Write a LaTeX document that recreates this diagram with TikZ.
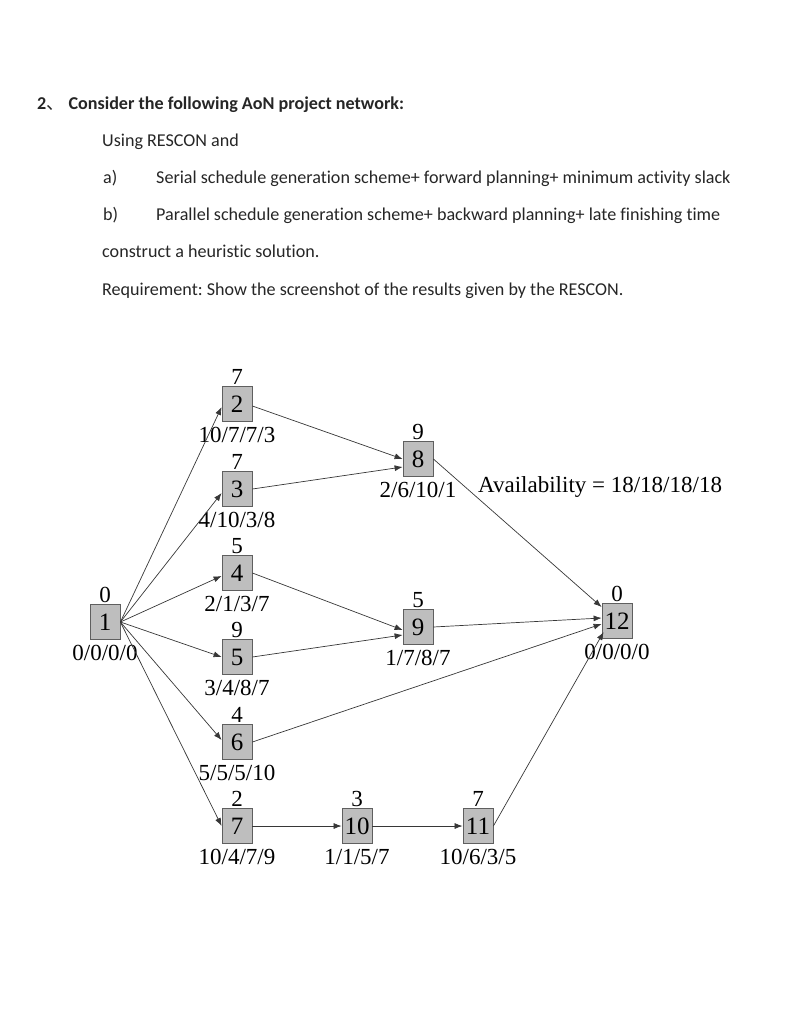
\documentclass[tikz,border=0pt]{standalone}
\usepackage{fontspec}
\setmainfont{Liberation Serif}
\newfontfamily\calfont[Ligatures=NoCommon]{Carlito}
\newfontfamily\cjkfont{Noto Sans CJK SC}
\usetikzlibrary{arrows.meta}
\frenchspacing
\definecolor{boxfill}{RGB}{190,190,190}
\definecolor{boxline}{RGB}{95,95,95}
\definecolor{edgecol}{RGB}{55,55,55}
\tikzset{
  txt/.style={anchor=base west, inner sep=0pt, font=\calfont\fontsize{18.1}{20}\selectfont, text=black!85},
  actbox/.style={draw=boxline, fill=boxfill, line width=0.8pt, minimum width=30pt, minimum height=35pt, inner sep=0pt, font=\fontsize{25}{26}\selectfont},
  toplbl/.style={anchor=south, inner sep=0pt, font=\fontsize{23}{24}\selectfont, yshift=1pt},
  botlbl/.style={anchor=base, inner sep=0pt, font=\fontsize{23}{24}\selectfont},
  edge/.style={draw=edgecol, line width=0.7pt, -{Latex[length=8pt,width=6pt]}},
  plain/.style={draw=edgecol, line width=0.7pt}
}
\newcommand{\act}[5]{%
  \node[actbox] (n#1) at (#2,#3) {#1};
  \node[toplbl] (t#1) at (n#1.north) {#4};
  \node[botlbl] (b#1) at ([yshift=-21pt]n#1.south) {#5};
}
\begin{document}
\begin{tikzpicture}[x=1pt,y=-1pt]
\useasboundingbox (0,0) rectangle (793,1024);
% heading text
\node[txt] (title) at (37,110) {\bfseries 2{\cjkfont\mdseries 、} Consider the following AoN project network:};
\node[txt] (l1) at (102,147) {Using RESCON and};
\node[txt] (l2a) at (103,184) {a)};
\node[txt] (l2) at (156,184) {Serial schedule generation scheme+ forward planning+ minimum activity slack};
\node[txt] (l3a) at (103,221) {b)};
\node[txt] (l3) at (156,221) {Parallel schedule generation scheme+ backward planning+ late finishing time};
\node[txt] (l4) at (102,258) {construct a heuristic solution.};
\node[txt] (l5) at (102,295) {Requirement: Show the screenshot of the results given by the RESCON.};
% activities
\act{1}{105}{622}{0}{0/0/0/0}
\act{2}{237}{404}{7}{10/7/7/3}
\act{3}{237}{489}{7}{4/10/3/8}
\act{4}{237}{573}{5}{2/1/3/7}
\act{5}{237}{657}{9}{3/4/8/7}
\act{6}{237}{742}{4}{5/5/5/10}
\act{7}{237}{826}{2}{10/4/7/9}
\act{8}{418}{459}{9}{2/6/10/1}
\act{9}{418}{627}{5}{1/7/8/7}
\act{10}{357}{826}{3}{1/1/5/7}
\act{11}{478}{826}{7}{10/6/3/5}
\act{12}{617}{621}{0}{0/0/0/0}
\node[anchor=base west, inner sep=0pt, font=\fontsize{23}{24}\selectfont] (avail) at (478,492) {Availability = 18/18/18/18};
% edges
\draw[edge] (n1.east) -- ([yshift=-3pt]n2.west);
\draw[edge] (n1.east) -- ([yshift=-4pt]n3.west);
\draw[edge] (n1.east) -- ([yshift=-3pt]n4.west);
\draw[edge] (n1.east) -- (n5.west);
\draw[edge] (n1.east) -- ([yshift=2pt]n6.west);
\draw[edge] (n1.east) -- (n7.west);
\draw[edge] ([yshift=-2pt]n2.east) -- (n8.west);
\draw[edge] (n3.east) -- ([yshift=-8pt]n8.west);
\draw[edge] (n4.east) -- ([yshift=-3pt]n9.west);
\draw[edge] (n5.east) -- ([yshift=-8pt]n9.west);
\draw[edge] (n8.east) -- ([yshift=14pt]n12.west);
\draw[edge] (n9.east) -- ([yshift=3pt]n12.west);
\draw[edge] (n6.east) -- ([yshift=-3pt]n12.west);
\draw[edge] (n7.east) -- (n10.west);
\draw[edge] (n10.east) -- (n11.west);
\draw[edge] (n11.east) -- ([xshift=2pt,yshift=-11pt]n12.west);
\end{tikzpicture}
\end{document}
